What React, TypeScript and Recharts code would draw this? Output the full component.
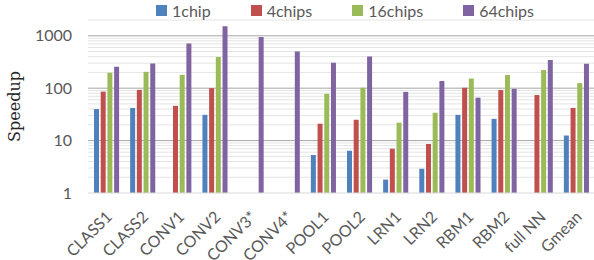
import { Bar, BarChart, Legend, ReferenceLine, XAxis, YAxis } from 'recharts';

const categories = [
  'CLASS1', 'CLASS2', 'CONV1', 'CONV2', 'CONV3*', 'CONV4*', 'POOL1',
  'POOL2', 'LRN1', 'LRN2', 'RBM1', 'RBM2', 'full NN', 'Gmean'
];

// null = no bar for that configuration
const chip1 = [40, 42, null, 31, null, null, 5.3, 6.4, 1.8, 2.9, 31, 26, null, 12.5];
const chip4 = [86, 93, 46, 100, null, null, 21, 25, 7, 8.6, 102, 92, 74, 42];
const chip16 = [197, 205, 180, 393, null, null, 78, 102, 22, 34, 153, 178, 222, 125];
const chip64 = [257, 297, 716, 1513, 948, 503, 306, 404, 85, 137, 66, 97, 344, 293];

const seriesNames = ['1chip', '4chips', '16chips', '64chips'];
const seriesColors = ['#4f81bd', '#c0504d', '#9bbb59', '#8064a2'];

const yTicks = [1, 10, 100, 1000];
const majorGrid = [10, 100, 1000];
const minorGrid = [
  2, 3, 4, 5, 6, 7, 8, 9,
  20, 30, 40, 50, 60, 70, 80, 90,
  200, 300, 400, 500, 600, 700, 800, 900, 2000
];
const yDomain = [1, 2000];

const data = categories.map((name, i) => ({
  name,
  s0: chip1[i],
  s1: chip4[i],
  s2: chip16[i],
  s3: chip64[i]
}));

function CategoryTick(props: any) {
  const { x, y, payload } = props;
  return (
    <g transform={`translate(${x + 7},${y + 25})`}>
      <text textAnchor="end" transform="rotate(-45)" fill="#595959" fontSize={16} fontFamily="Lato, sans-serif">
        {payload.value}
      </text>
    </g>
  );
}

function LegendContent() {
  return (
    <div style={{ display: 'flex', justifyContent: 'center', fontFamily: 'Lato, sans-serif', fontSize: 16, color: '#595959' }}>
      {seriesNames.map((name, i) => (
        <div key={name} style={{ display: 'flex', alignItems: 'center', marginRight: i < 3 ? 40 : 0 }}>
          <span style={{ width: 11, height: 11, background: seriesColors[i], marginRight: 5, display: 'inline-block' }} />
          <span>{name}</span>
        </div>
      ))}
    </div>
  );
}

export default function App() {
  return (
    <div style={{ position: 'absolute', left: 0, top: 0, width: 594, height: 260, background: '#fff', fontFamily: 'Lato, sans-serif' }}>
      <BarChart width={594} height={260} data={data} margin={{ top: 0, right: 0, left: 0, bottom: 0 }} barGap={1.7}>
        {minorGrid.map((v) => (
          <ReferenceLine key={`mn-${v}`} y={v} stroke="#e4e4e4" ifOverflow="discard" zIndex={-100} />
        ))}
        {majorGrid.map((v) => (
          <ReferenceLine key={`mj-${v}`} y={v} stroke="#a6a6a6" ifOverflow="discard" zIndex={-90} />
        ))}
        <Legend
          verticalAlign="top"
          height={20}
          content={<LegendContent />}
          wrapperStyle={{ left: 92, width: 506, top: 1 }}
        />
        <XAxis
          dataKey="name"
          height={67}
          interval={0}
          tick={<CategoryTick />}
          tickLine={false}
          tickSize={0}
          tickMargin={0}
          axisLine={{ stroke: '#d9d9d9' }}
        />
        <YAxis
          scale="log"
          type="number"
          domain={yDomain}
          ticks={yTicks}
          interval={0}
          allowDataOverflow
          width={88}
          axisLine={false}
          tickLine={false}
          tickSize={0}
          tickMargin={16}
          tick={{ fill: '#595959', fontSize: 16, fontFamily: 'Lato, sans-serif' }}
          label={{
            value: 'Speedup',
            angle: -90,
            position: 'insideLeft',
            offset: 14,
            fontFamily: 'DejaVu Serif',
            fontSize: 16,
            fill: '#262626',
            style: { textAnchor: 'middle', fontFamily: 'DejaVu Serif', fontSize: 16, fill: '#262626' }
          }}
        />
        {seriesNames.map((name, i) => (
          <Bar key={name} dataKey={`s${i}`} name={name} fill={seriesColors[i]} barSize={5} isAnimationActive={false} />
        ))}
      </BarChart>
    </div>
  );
}
